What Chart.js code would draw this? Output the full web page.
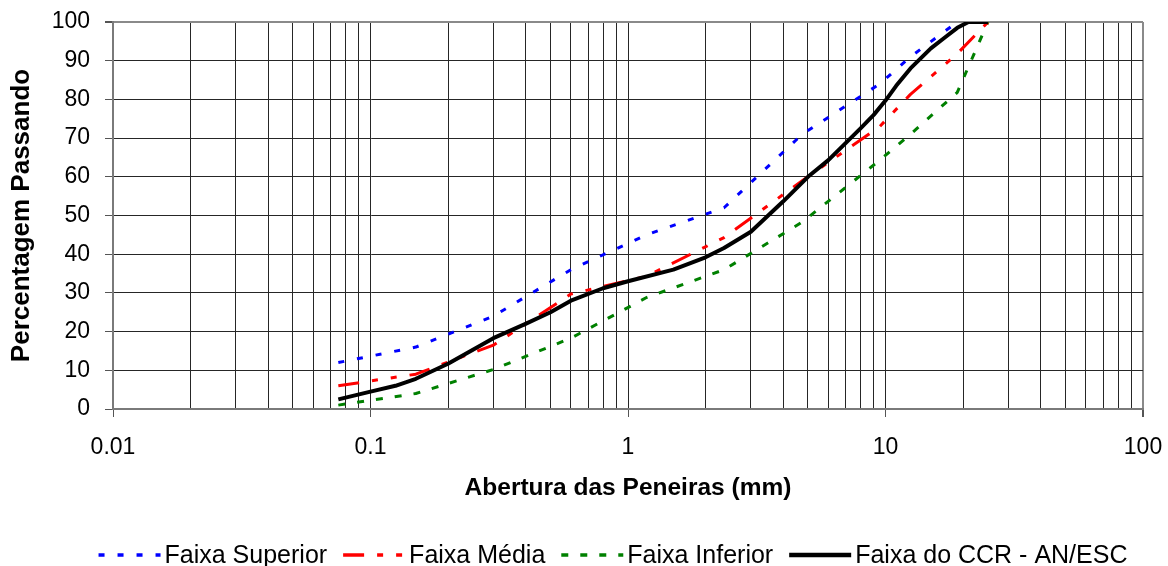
<!DOCTYPE html>
<html>
<head>
<meta charset="utf-8">
<script src="https://cdn.jsdelivr.net/npm/chart.js@4.4.1/dist/chart.umd.min.js"></script>
<style>
  html, body { margin: 0; padding: 0; background: #ffffff; }
  #wrap { width: 1168px; height: 566px; }
</style>
</head>
<body>
<div id="wrap"><canvas id="granulometria" width="1168" height="566"></canvas></div>
<script>
// Sieve openings (mm) of the specification bands
const sieveSizes = [0.075, 0.15, 0.3, 0.6, 1.18, 2.36, 4.75, 9.5, 12.5, 19, 25];
// Percent passing for each band (null = no value at that sieve)
const upperBand  = [12, 16, 24, 36, 45, 52, 71, 84, 91, 100, null];
const middleBand = [6, 9, 16.5, 29.7, 34.3, 44.3, 59, 73, 81.3, 91.8, 100];
const lowerBand  = [1, 4, 10.2, 18.3, 28.8, 36, 48.3, 64.3, 71, 81.8, 100];

// Grading curve of the CCR mix
const ccrSizes   = [0.075, 0.1, 0.125, 0.15, 0.2, 0.3, 0.4, 0.5, 0.6, 0.8, 1, 1.5, 2, 2.36, 3, 4, 5, 6, 7, 8, 9, 10, 11, 12.5, 15, 17, 19, 21, 25];
const ccrPassing = [2.5, 4.5, 6, 7.8, 11.7, 18.3, 22, 25, 28, 31.2, 33, 36, 39.2, 41.6, 45.8, 53.6, 60, 64.3, 68.7, 72.5, 76, 79.7, 83.5, 88, 93.2, 96, 98.5, 100, 100];

// Axis labels
const xTickLabels = ['0.01', '0.1', '1', '10', '100'];
const seriesNames = ['Faixa Superior', 'Faixa Média', 'Faixa Inferior', 'Faixa do CCR - AN/ESC'];

const FONT = '"Liberation Sans", Arial, Helvetica, sans-serif';

function toPoints(xs, ys) {
  return xs.map((x, i) => ({ x: x, y: ys[i] })).filter(p => p.y !== null && p.y !== undefined);
}

// log grid: 1..9 x 10^k inside each decade of the labelled range
const majorValues = xTickLabels.map(Number);
const gridValues = [];
for (let d = 0; d < majorValues.length - 1; d++) {
  for (let m = 1; m <= 9; m++) gridValues.push(majorValues[d] * m);
}
gridValues.push(majorValues[majorValues.length - 1]);

function majorIndex(v) {
  return majorValues.findIndex(mv => Math.abs(v - mv) / mv < 1e-9);
}

// keep the plot frame fixed: labels may overhang into the page margin
function noLabelOverhang(s) {
  s.paddingTop = 0; s.paddingBottom = 0; s.paddingLeft = 0; s.paddingRight = 0;
}

// Legend drawn under the axis title, one row, dashed samples
const bandLegend = {
  id: 'bandLegend',
  afterDraw(chart) {
    const ctx = chart.ctx;
    ctx.save();
    ctx.font = '25px ' + FONT;
    const sample = 62, gapText = 4, gapItem = 16;
    const items = chart.data.datasets.map(ds => ({ ds: ds, w: ctx.measureText(ds.label).width }));
    const total = items.reduce((s, it) => s + sample + gapText + it.w, 0) + gapItem * (items.length - 1);
    let x = 613 - total / 2;
    const yLine = 555, yText = 563;
    items.forEach(it => {
      ctx.strokeStyle = it.ds.borderColor;
      ctx.lineWidth = it.ds.borderWidth + 0.5;
      ctx.lineCap = 'butt';
      ctx.setLineDash(it.ds.borderDash || []);
      ctx.beginPath();
      ctx.moveTo(x, yLine);
      ctx.lineTo(x + sample, yLine);
      ctx.stroke();
      ctx.setLineDash([]);
      ctx.fillStyle = '#000000';
      ctx.textBaseline = 'alphabetic';
      ctx.textAlign = 'left';
      ctx.fillText(it.ds.label, x + sample + gapText, yText);
      x += sample + gapText + it.w + gapItem;
    });
    ctx.restore();
  }
};

const common = { pointRadius: 0, pointHoverRadius: 0, fill: false, tension: 0, borderCapStyle: 'butt', borderJoinStyle: 'round' };

const GRID = '#262626';
const FRAME = '#8a8a8a';

new Chart(document.getElementById('granulometria'), {
  type: 'line',
  data: {
    datasets: [
      Object.assign({ label: seriesNames[0], data: toPoints(sieveSizes, upperBand),
        borderColor: '#0000ff', borderWidth: 3, borderDash: [6, 13], order: 3 }, common),
      Object.assign({ label: seriesNames[1], data: toPoints(sieveSizes, middleBand),
        borderColor: '#ff0000', borderWidth: 3, borderDash: [21, 13, 6, 13, 6, 13], order: 1 }, common),
      Object.assign({ label: seriesNames[2], data: toPoints(sieveSizes, lowerBand),
        borderColor: '#008000', borderWidth: 3, borderDash: [7, 12], order: 2 }, common),
      Object.assign({ label: seriesNames[3], data: toPoints(ccrSizes, ccrPassing),
        borderColor: '#000000', borderWidth: 4, order: 0 }, common)
    ]
  },
  options: {
    responsive: false,
    animation: false,
    devicePixelRatio: 1,
    layout: { padding: { top: 22, right: 25, left: 0, bottom: 0 } },
    plugins: {
      legend: { display: false },
      tooltip: { enabled: false }
    },
    scales: {
      x: {
        type: 'logarithmic',
        min: 0.01,
        max: 100,
        afterBuildTicks: s => { s.ticks = gridValues.map(v => ({ value: v, major: majorIndex(v) >= 0 })); },
        afterFit: s => { s.height = 157; noLabelOverhang(s); },
        ticks: {
          autoSkip: false,
          maxRotation: 0,
          minRotation: 0,
          padding: 17,
          color: '#000000',
          font: { family: FONT, size: 23 },
          callback: v => { const i = majorIndex(v); return i >= 0 ? xTickLabels[i] : ''; }
        },
        grid: {
          color: c => (c.tick && Math.abs(c.tick.value - 100) < 1e-9) ? FRAME : GRID,
          lineWidth: c => (c.tick && Math.abs(c.tick.value - 100) < 1e-9) ? 2 : 1,
          tickLength: 8,
          tickColor: c => (c.tick && majorIndex(c.tick.value) >= 0) ? '#555555' : 'rgba(0,0,0,0)'
        },
        border: { color: '#7a7a7a', width: 2 },
        title: {
          display: true,
          text: 'Abertura das Peneiras (mm)',
          color: '#000000',
          font: { family: FONT, size: 24.5, weight: 'bold' },
          padding: { top: 0, bottom: 63 }
        }
      },
      y: {
        min: 0,
        max: 100,
        afterFit: s => { s.width = 113; noLabelOverhang(s); },
        ticks: {
          stepSize: 10,
          padding: 15,
          color: '#000000',
          font: { family: FONT, size: 23 }
        },
        grid: {
          color: c => (c.tick && c.tick.value === 100) ? FRAME : GRID,
          lineWidth: c => (c.tick && c.tick.value === 100) ? 2 : 1,
          tickLength: 8,
          tickColor: '#555555'
        },
        border: { color: '#7a7a7a', width: 2 },
        title: {
          display: true,
          text: 'Percentagem Passando',
          color: '#000000',
          font: { family: FONT, size: 26, weight: 'bold' },
          padding: { top: 6, bottom: 0 }
        }
      }
    }
  },
  plugins: [bandLegend]
});
</script>
</body>
</html>
